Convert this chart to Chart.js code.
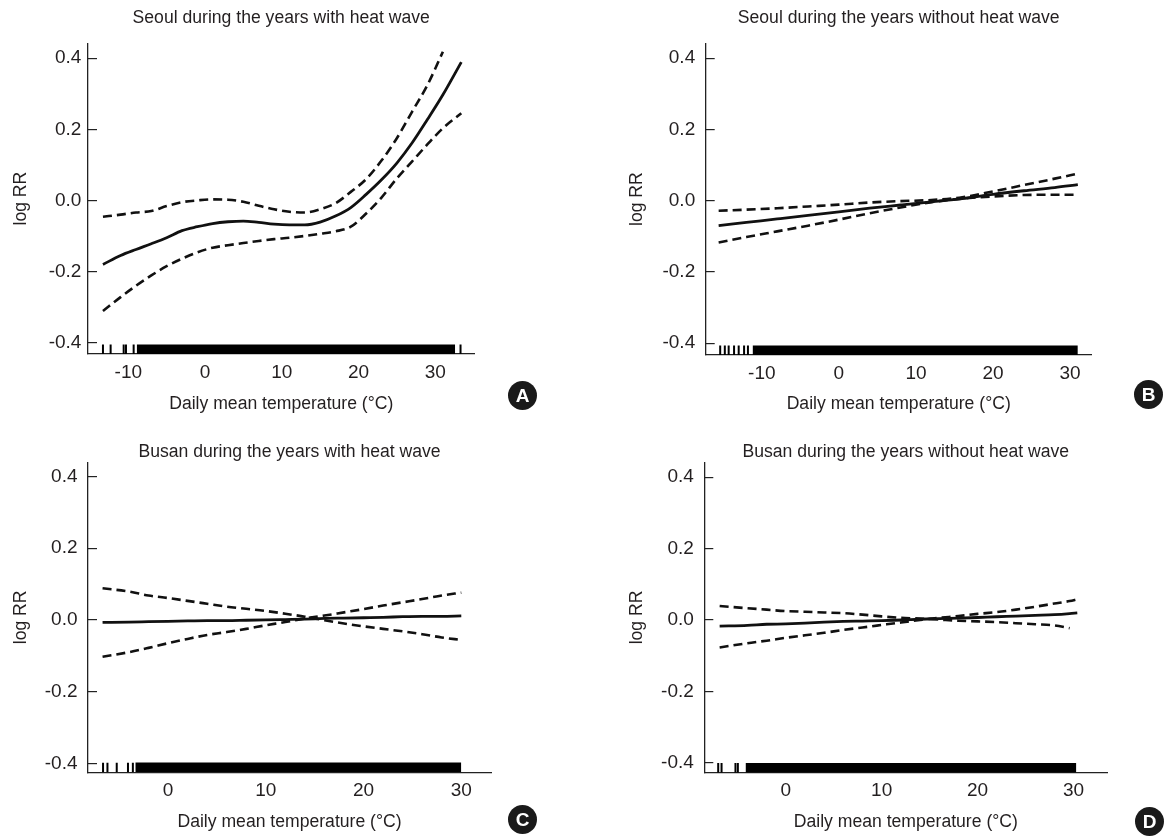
<!DOCTYPE html>
<html>
<head>
<meta charset="utf-8">
<title>log RR vs daily mean temperature</title>
<script src="https://cdn.jsdelivr.net/npm/chart.js@4.4.1/dist/chart.umd.min.js"></script>
<style>
  html, body { margin:0; padding:0; background:#fff; }
  body { width:1165px; height:838px; position:relative; overflow:hidden; }
  .panel { position:absolute; }
  .tag { position:absolute; width:29px; height:29px; border-radius:50%; background:#1a1a1a; color:#fff;
         font:bold 19px 'Liberation Sans', Arial, sans-serif; line-height:29px; text-align:center; }
</style>
</head>
<body>
<div class="panel" style="left:0;top:0;width:580px;height:419px"><canvas id="chart-a"></canvas></div>
<div class="panel" style="left:580px;top:0;width:585px;height:419px"><canvas id="chart-b"></canvas></div>
<div class="panel" style="left:0;top:419px;width:580px;height:419px"><canvas id="chart-c"></canvas></div>
<div class="panel" style="left:580px;top:419px;width:585px;height:419px"><canvas id="chart-d"></canvas></div>
<div class="tag" style="left:508px;top:381px">A</div>
<div class="tag" style="left:1134px;top:380px">B</div>
<div class="tag" style="left:508px;top:805px">C</div>
<div class="tag" style="left:1135px;top:807px">D</div>

<script>
// ============================================================
// DATA
// ============================================================

// Seoul, years with heat wave
const tempA  = [-13.3, -11, -9, -7, -5, -3, -1, 1, 3, 5, 7, 9, 11, 13, 15, 17, 19, 21, 23, 25, 27, 29, 31, 33.4];
const fitA   = [-0.180, -0.155, -0.138, -0.122, -0.105, -0.085, -0.074, -0.065, -0.060, -0.058, -0.062, -0.067,
                -0.069, -0.069, -0.061, -0.044, -0.020, 0.017, 0.058, 0.105, 0.162, 0.228, 0.297, 0.389];
const upperA = [-0.046, -0.040, -0.034, -0.030, -0.016, -0.005, 0.000, 0.003, 0.002, -0.004, -0.015, -0.025,
                -0.032, -0.034, -0.025, -0.008, 0.024, 0.060, 0.112, 0.175, 0.250, 0.325, 0.418, null];
const lowerA = [-0.311, -0.272, -0.240, -0.211, -0.185, -0.164, -0.146, -0.133, -0.126, -0.120, -0.114, -0.109,
                -0.105, -0.100, -0.094, -0.087, -0.074, -0.037, 0.008, 0.062, 0.110, 0.158, 0.203, 0.245];
const rugMarksA = [-13.3, -12.3, -10.6, -10.3, -9.3, 33.3];
const rugSpanA  = [-8.9, 32.6];

// Seoul, years without heat wave
const tempB  = [-15.6, -12, -8, -4, 0, 4, 8, 12, 16, 20, 24, 28, 31.0];
const fitB   = [-0.070, -0.061, -0.051, -0.041, -0.031, -0.021, -0.012, -0.003, 0.006, 0.018, 0.028, 0.037, 0.045];
const upperB = [-0.028, -0.025, -0.021, -0.016, -0.011, -0.005, -0.001, 0.002, 0.010, 0.026, 0.044, 0.062, 0.076];
const lowerB = [-0.117, -0.102, -0.086, -0.070, -0.053, -0.035, -0.019, -0.004, 0.006, 0.012, 0.016, 0.017, 0.017];
const rugMarksB = [-15.4, -14.8, -14.3, -13.6, -13.0, -12.3, -11.8];
const rugSpanB  = [-11.2, 31.0];

// Busan, years with heat wave
const tempC  = [-6.7, -4, -2, 0, 2, 4, 6, 8, 10, 12, 14, 16, 18, 20, 22, 24, 26, 28, 30];
const fitC   = [-0.007, -0.006, -0.005, -0.004, -0.003, -0.002, -0.002, -0.001, 0.000, 0.001, 0.002, 0.004,
                0.005, 0.006, 0.007, 0.009, 0.010, 0.010, 0.011];
const upperC = [0.088, 0.079, 0.068, 0.061, 0.053, 0.045, 0.037, 0.031, 0.025, 0.017, 0.009, -0.001,
                -0.010, -0.018, -0.025, -0.032, -0.040, -0.049, -0.056];
const lowerC = [-0.103, -0.090, -0.078, -0.065, -0.053, -0.042, -0.034, -0.025, -0.015, -0.006, 0.004, 0.012,
                0.021, 0.030, 0.040, 0.049, 0.058, 0.068, 0.076];
const rugMarksC = [-6.65, -6.2, -5.25, -4.1, -3.6];
const rugSpanC  = [-3.35, 30.0];

// Busan, years without heat wave
const tempD  = [-6.9, -4, -2, 0, 2, 4, 6, 8, 10, 12, 14, 16, 18, 20, 22, 24, 26, 28, 29.6, 30.4];
const fitD   = [-0.017, -0.015, -0.012, -0.011, -0.009, -0.006, -0.004, -0.003, -0.002, 0.000, 0.002, 0.004,
                0.005, 0.007, 0.009, 0.011, 0.013, 0.015, 0.018, 0.020];
const upperD = [0.039, 0.033, 0.029, 0.025, 0.023, 0.021, 0.019, 0.015, 0.010, 0.006, 0.004, 0.001,
                -0.002, -0.004, -0.006, -0.009, -0.012, -0.015, -0.023, null];
const lowerD = [-0.077, -0.065, -0.058, -0.050, -0.043, -0.036, -0.028, -0.021, -0.014, -0.007, 0.000, 0.006,
                0.011, 0.017, 0.022, 0.029, 0.037, 0.046, 0.053, 0.058];
const rugMarksD = [-7.05, -6.7, -5.25, -5.0];
const rugSpanD  = [-4.2, 30.3];

// Axes
const yTicks   = [-0.4, -0.2, 0, 0.2, 0.4];
const xTicksAB = [-10, 0, 10, 20, 30];
const xTicksCD = [0, 10, 20, 30];

// ============================================================
// STYLE
// ============================================================
const ink = '#231f20';
const sans = "'Liberation Sans', Arial, sans-serif";
const tickFont  = { family: sans, size: 19, lineHeight: 1.2 };
const labelFont = { family: sans, size: 17.6, lineHeight: 1.2 };
const titleFont = { family: sans, size: 17.6, weight: 'normal', lineHeight: 1.1 };
const rugHeight = 0.027;   // rug tick height, in axis units

const pts = (xs, ys) => xs.map((x, i) => ({ x, y: ys[i] })).filter(p => p.y !== null);

function renderPanel(id, title, temps, fit, upper, lower, rugMarks, rugSpan, xTicks, box) {
  const curve = (data, dash) => ({
    data, borderColor: '#111', borderWidth: dash ? 2.6 : 2.8, borderDash: dash ? [9, 5] : [],
    pointRadius: 0, cubicInterpolationMode: 'monotone', fill: false
  });
  return new Chart(document.getElementById(id).getContext('2d'), {
    type: 'line',
    data: {
      datasets: [
        curve(pts(temps, fit), false),
        curve(pts(temps, upper), true),
        curve(pts(temps, lower), true),
        { data: rugSpan.map(x => ({ x, y: box.yMin + rugHeight })), borderWidth: 0, pointRadius: 0,
          fill: { value: box.yMin }, backgroundColor: '#000' },
        { type: 'scatter', data: rugMarks.map(x => ({ x, y: box.yMin + rugHeight / 2 })),
          pointStyle: 'line', rotation: 90, radius: 4.8, borderWidth: 2, borderColor: '#000' }
      ]
    },
    options: {
      responsive: true, maintainAspectRatio: false, animation: false, events: [],
      layout: { autoPadding: false, padding: { left: 0, top: 0, bottom: 0, right: box.padRight } },
      plugins: {
        legend: { display: false }, tooltip: { enabled: false },
        title: { display: true, text: title, fullSize: false, color: ink, font: titleFont,
                 padding: { top: box.titleTop, bottom: box.titleBottom } }
      },
      scales: {
        x: {
          type: 'linear', min: box.xMin, max: box.xMax,
          afterBuildTicks: s => { s.ticks = xTicks.map(v => ({ value: v })); },
          afterFit: s => { s.height = box.xHeight; },
          grid: { display: false, drawTicks: false },
          border: { display: true, color: '#222', width: 1.3 },
          ticks: { padding: 7, color: ink, font: tickFont, maxRotation: 0, autoSkip: false },
          title: { display: true, text: 'Daily mean temperature (°C)', color: ink, font: labelFont,
                   padding: { top: 0, bottom: box.xTitlePad } }
        },
        y: {
          type: 'linear', min: box.yMin, max: box.yMax,
          afterBuildTicks: s => { s.ticks = yTicks.map(v => ({ value: v })); },
          afterFit: s => { s.width = box.yWidth; },
          grid: { drawOnChartArea: false, drawTicks: true, tickLength: -9, color: '#222', lineWidth: 1.2 },
          border: { display: true, color: '#222', width: 1.3 },
          ticks: { padding: box.yTickPad, color: ink, font: tickFont,
                   callback: v => Math.abs(v) < 1e-9 ? '0.0' : v.toFixed(1) },
          title: { display: true, text: 'log RR', color: ink, font: labelFont,
                   padding: { top: box.yTitlePad, bottom: 0 } }
        }
      }
    }
  });
}

renderPanel('chart-a', 'Seoul during the years with heat wave', tempA, fitA, upperA, lowerA, rugMarksA, rugSpanA, xTicksAB,
  { xMin: -15.25, xMax: 35.12, yMin: -0.432, yMax: 0.442, yWidth: 88, xHeight: 65, padRight: 105.5,
    titleTop: 8.3, titleBottom: 15.6, yTitlePad: 10.4, xTitlePad: 4.4, yTickPad: 15.6 });

renderPanel('chart-b', 'Seoul during the years without heat wave', tempB, fitB, upperB, lowerB, rugMarksB, rugSpanB, xTicksAB,
  { xMin: -17.28, xMax: 32.8, yMin: -0.433, yMax: 0.442, yWidth: 125.7, xHeight: 64, padRight: 73.3,
    titleTop: 8.3, titleBottom: 15.6, yTitlePad: 46.4, xTitlePad: 4.4, yTickPad: 19.5 });

renderPanel('chart-c', 'Busan during the years with heat wave', tempC, fitC, upperC, lowerC, rugMarksC, rugSpanC, xTicksCD,
  { xMin: -8.19, xMax: 33.04, yMin: -0.425, yMax: 0.439, yWidth: 88, xHeight: 65.7, padRight: 89,
    titleTop: 23, titleBottom: 1.1, yTitlePad: 10.4, xTitlePad: 5.7, yTickPad: 19.5 });

renderPanel('chart-d', 'Busan during the years without heat wave', tempD, fitD, upperD, lowerD, rugMarksD, rugSpanD, xTicksCD,
  { xMin: -8.5, xMax: 33.53, yMin: -0.428, yMax: 0.442, yWidth: 124.3, xHeight: 65.3, padRight: 57.7,
    titleTop: 23, titleBottom: 0.9, yTitlePad: 46.4, xTitlePad: 5.7, yTickPad: 19.5 });
</script>
</body>
</html>
